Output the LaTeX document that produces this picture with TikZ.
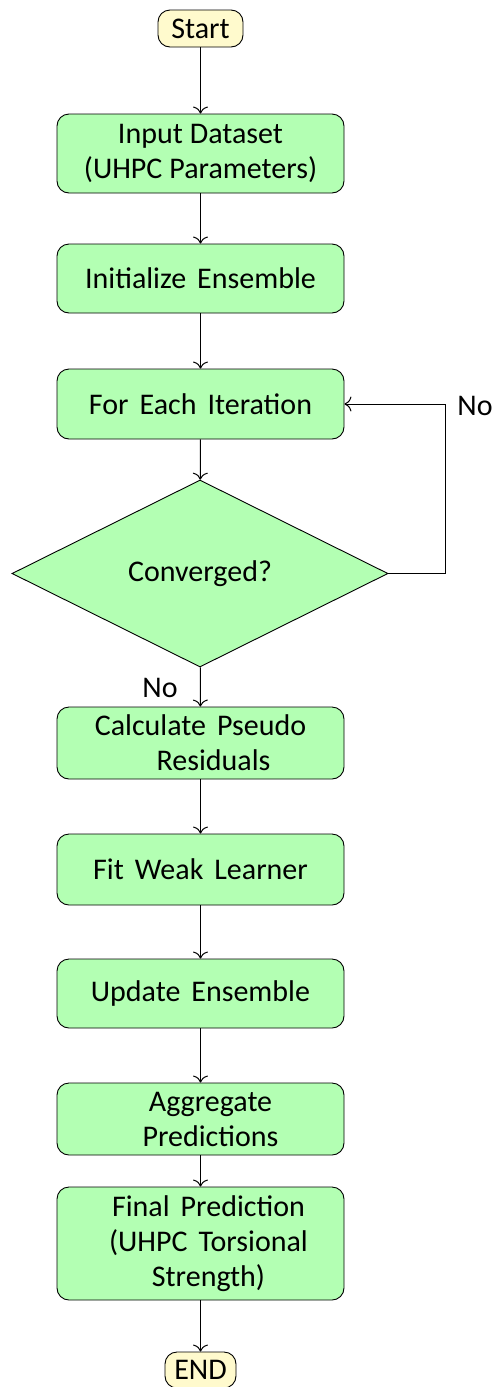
\documentclass[tikz,border=0pt]{standalone}
\usepackage{fontspec}
\setmainfont{Carlito}
\usetikzlibrary{shapes.geometric,arrows.meta}
\definecolor{boxgreen}{HTML}{B3FFB3}
\definecolor{termfill}{HTML}{FFFACD}
\newcommand{\bigfont}{\fontsize{30}{35}\selectfont\spaceskip=11pt plus 2pt minus 2pt\relax}
\newcommand{\tightsp}{\spaceskip=7pt plus 1pt minus 1pt\relax}
\begin{document}
\begin{tikzpicture}[x=1pt,y=-1pt,
  proc/.style={draw=black,line width=0.9pt,fill=boxgreen,rounded corners=12pt,minimum width=287pt,align=center,font=\bigfont,inner sep=0pt},
  term/.style={draw=black,line width=0.9pt,fill=termfill,rounded corners=12pt,font=\bigfont,inner sep=0pt},
  decis/.style={draw=black,line width=0.9pt,fill=boxgreen,diamond,aspect=2,inner sep=0pt,minimum width=376pt,minimum height=187pt,font=\bigfont},
  conn/.style={line width=1pt,-{To[length=7pt,width=15pt]}},
  lbl/.style={font=\bigfont}]
\useasboundingbox (0,0) rectangle (495,1387);
\node[term,minimum width=85pt,minimum height=37pt] (start) at (200.5,28.5) {Start};
\node[proc,minimum height=79pt] (input) at (200.5,153.5) {\tightsp Input Dataset\\\tightsp(UHPC Parameters)};
\node[proc,minimum height=69pt] (init) at (200.5,278.5) {Initialize Ensemble};
\node[proc,minimum height=70pt] (iter) at (200.5,404) {For Each Iteration};
\node[decis] (conv) at (200,573.5) {Converged?};
\node[proc,minimum height=72pt] (calc) at (200.5,743) {Calculate Pseudo\\\hspace*{26pt}Residuals};
\node[proc,minimum height=71pt] (fit) at (200.5,869.5) {Fit Weak Learner};
\node[proc,minimum height=69pt] (upd) at (200.5,993.5) {Update Ensemble};
\node[proc,minimum height=72pt] (agg) at (200.5,1119) {\hspace*{20pt}Aggregate\\\hspace*{20pt}Predictions};
\node[proc,minimum height=113pt] (final) at (200.5,1243.5) {\hspace*{16pt}Final Prediction\\\hspace*{16pt}(UHPC Torsional\\\hspace*{16pt}Strength)};
\node[term,minimum width=71pt,minimum height=36pt] (end) at (200.5,1370) {END};
\coordinate (loopc) at (445,573.5);
\draw[conn] (start) -- (input);
\draw[conn] (input) -- (init);
\draw[conn] (init) -- (iter);
\draw[conn] (iter) -- (conv);
\draw[conn] (conv.east) -- (loopc) |- (iter.east);
\node[lbl] (no1) at (475,406) {No};
\draw[conn] (conv) -- (calc);
\node[lbl] (no2) at (160,688) {No};
\draw[conn] (calc) -- (fit);
\draw[conn] (fit) -- (upd);
\draw[conn] (upd) -- (agg);
\draw[conn] (agg) -- (final);
\draw[conn] (final) -- (end);
\end{tikzpicture}
\end{document}
